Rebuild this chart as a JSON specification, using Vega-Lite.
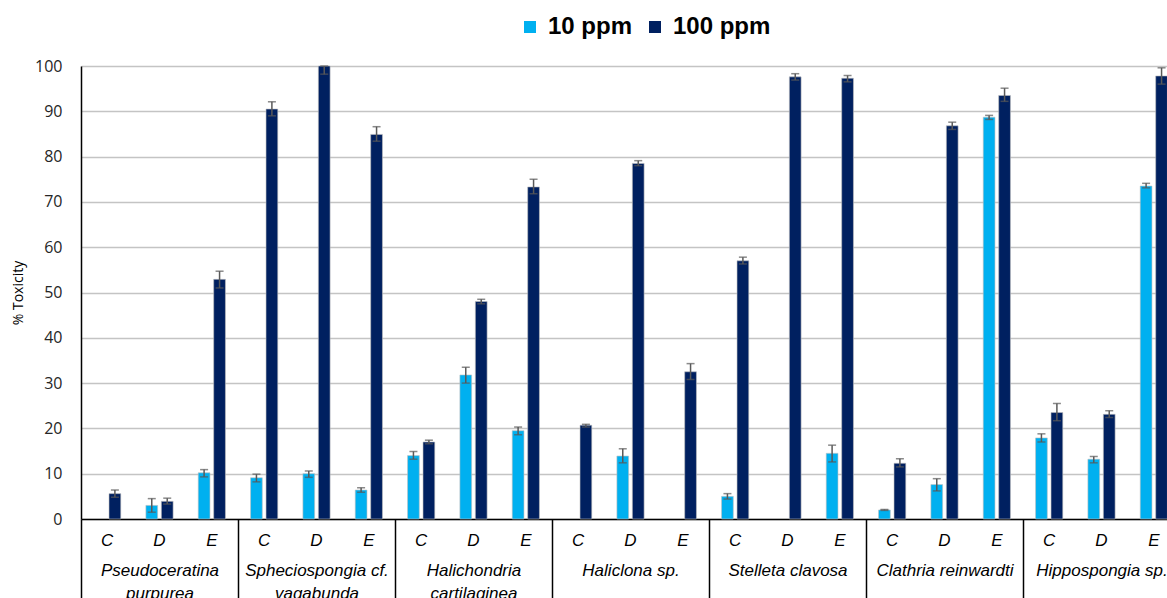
{
  "$schema": "https://vega.github.io/schema/vega-lite/v6.json",
  "autosize": {"type": "none"},
  "padding": {"left": 81, "top": 66, "right": 0, "bottom": 79},
  "width": 1086,
  "height": 453,
  "config": {
    "view": {"stroke": null},
    "font": "Liberation Sans"
  },
  "data": {
    "values": [
      {"species": "Pseudoceratina purpurea", "grp": "Pseudoceratina purpurea C", "series": "100 ppm", "v": 5.6, "lo": 4.8, "hi": 6.4},
      {"species": "Pseudoceratina purpurea", "grp": "Pseudoceratina purpurea D", "series": "10 ppm", "v": 3.0, "lo": 1.5, "hi": 4.5},
      {"species": "Pseudoceratina purpurea", "grp": "Pseudoceratina purpurea D", "series": "100 ppm", "v": 3.9, "lo": 3.3, "hi": 4.6},
      {"species": "Pseudoceratina purpurea", "grp": "Pseudoceratina purpurea E", "series": "10 ppm", "v": 10.2, "lo": 9.3, "hi": 10.9},
      {"species": "Pseudoceratina purpurea", "grp": "Pseudoceratina purpurea E", "series": "100 ppm", "v": 52.9, "lo": 51.0, "hi": 54.7},
      {"species": "Spheciospongia cf. vagabunda", "grp": "Spheciospongia cf. vagabunda C", "series": "10 ppm", "v": 9.1, "lo": 8.2, "hi": 9.9},
      {"species": "Spheciospongia cf. vagabunda", "grp": "Spheciospongia cf. vagabunda C", "series": "100 ppm", "v": 90.5, "lo": 89.0, "hi": 92.1},
      {"species": "Spheciospongia cf. vagabunda", "grp": "Spheciospongia cf. vagabunda D", "series": "10 ppm", "v": 10.0, "lo": 9.2, "hi": 10.6},
      {"species": "Spheciospongia cf. vagabunda", "grp": "Spheciospongia cf. vagabunda D", "series": "100 ppm", "v": 100, "lo": 98.2, "hi": 100},
      {"species": "Spheciospongia cf. vagabunda", "grp": "Spheciospongia cf. vagabunda E", "series": "10 ppm", "v": 6.4, "lo": 5.9, "hi": 6.9},
      {"species": "Spheciospongia cf. vagabunda", "grp": "Spheciospongia cf. vagabunda E", "series": "100 ppm", "v": 84.9, "lo": 83.4, "hi": 86.6},
      {"species": "Halichondria cartilaginea", "grp": "Halichondria cartilaginea C", "series": "10 ppm", "v": 14.0, "lo": 13.2, "hi": 14.9},
      {"species": "Halichondria cartilaginea", "grp": "Halichondria cartilaginea C", "series": "100 ppm", "v": 17.0, "lo": 16.6, "hi": 17.4},
      {"species": "Halichondria cartilaginea", "grp": "Halichondria cartilaginea D", "series": "10 ppm", "v": 31.8, "lo": 30.0, "hi": 33.5},
      {"species": "Halichondria cartilaginea", "grp": "Halichondria cartilaginea D", "series": "100 ppm", "v": 48.0, "lo": 47.5, "hi": 48.5},
      {"species": "Halichondria cartilaginea", "grp": "Halichondria cartilaginea E", "series": "10 ppm", "v": 19.5, "lo": 18.6, "hi": 20.3},
      {"species": "Halichondria cartilaginea", "grp": "Halichondria cartilaginea E", "series": "100 ppm", "v": 73.3, "lo": 71.8, "hi": 75.0},
      {"species": "Haliclona sp.", "grp": "Haliclona sp. C", "series": "100 ppm", "v": 20.7, "lo": 20.3, "hi": 20.9},
      {"species": "Haliclona sp.", "grp": "Haliclona sp. D", "series": "10 ppm", "v": 13.9, "lo": 12.4, "hi": 15.5},
      {"species": "Haliclona sp.", "grp": "Haliclona sp. D", "series": "100 ppm", "v": 78.5, "lo": 78.0, "hi": 79.1},
      {"species": "Haliclona sp.", "grp": "Haliclona sp. E", "series": "100 ppm", "v": 32.5, "lo": 30.8, "hi": 34.3},
      {"species": "Stelleta clavosa", "grp": "Stelleta clavosa C", "series": "10 ppm", "v": 5.0, "lo": 4.4, "hi": 5.6},
      {"species": "Stelleta clavosa", "grp": "Stelleta clavosa C", "series": "100 ppm", "v": 57.0, "lo": 56.3, "hi": 57.8},
      {"species": "Stelleta clavosa", "grp": "Stelleta clavosa D", "series": "100 ppm", "v": 97.6, "lo": 96.9, "hi": 98.3},
      {"species": "Stelleta clavosa", "grp": "Stelleta clavosa E", "series": "10 ppm", "v": 14.5, "lo": 12.6, "hi": 16.3},
      {"species": "Stelleta clavosa", "grp": "Stelleta clavosa E", "series": "100 ppm", "v": 97.3, "lo": 96.5, "hi": 97.9},
      {"species": "Clathria reinwardti", "grp": "Clathria reinwardti C", "series": "10 ppm", "v": 2.0, "lo": 1.9, "hi": 2.1},
      {"species": "Clathria reinwardti", "grp": "Clathria reinwardti C", "series": "100 ppm", "v": 12.3, "lo": 11.5, "hi": 13.3},
      {"species": "Clathria reinwardti", "grp": "Clathria reinwardti D", "series": "10 ppm", "v": 7.6, "lo": 6.2, "hi": 8.9},
      {"species": "Clathria reinwardti", "grp": "Clathria reinwardti D", "series": "100 ppm", "v": 86.8, "lo": 86.0, "hi": 87.6},
      {"species": "Clathria reinwardti", "grp": "Clathria reinwardti E", "series": "10 ppm", "v": 88.7, "lo": 88.2, "hi": 89.1},
      {"species": "Clathria reinwardti", "grp": "Clathria reinwardti E", "series": "100 ppm", "v": 93.5, "lo": 92.2, "hi": 95.1},
      {"species": "Hippospongia sp.", "grp": "Hippospongia sp. C", "series": "10 ppm", "v": 17.9, "lo": 17.0, "hi": 18.8},
      {"species": "Hippospongia sp.", "grp": "Hippospongia sp. C", "series": "100 ppm", "v": 23.5, "lo": 21.7, "hi": 25.5},
      {"species": "Hippospongia sp.", "grp": "Hippospongia sp. D", "series": "10 ppm", "v": 13.2, "lo": 12.4, "hi": 13.8},
      {"species": "Hippospongia sp.", "grp": "Hippospongia sp. D", "series": "100 ppm", "v": 23.1, "lo": 22.4, "hi": 23.9},
      {"species": "Hippospongia sp.", "grp": "Hippospongia sp. E", "series": "10 ppm", "v": 73.5, "lo": 73.1, "hi": 74.1},
      {"species": "Hippospongia sp.", "grp": "Hippospongia sp. E", "series": "100 ppm", "v": 97.8, "lo": 96.0, "hi": 99.6}
    ]
  },
  "layer": [
    {
      "encoding": {
        "x": {
          "field": "grp", "type": "nominal", "sort": null,
          "scale": {"range": [0, 1099], "paddingInner": 0.48, "paddingOuter": 0.24},
          "axis": {
            "title": null, "labelExpr": "slice(datum.label, -1)", "labelAngle": 0,
            "ticks": false, "domain": true, "domainColor": "#000000", "domainWidth": 1.5,
            "labelPadding": 13, "labelFontSize": 17, "labelFontStyle": "italic",
            "labelColor": "#000000", "labelFont": "Liberation Sans"
          }
        },
        "xOffset": {"field": "series", "type": "nominal", "scale": {"domain": ["10 ppm", "100 ppm"], "paddingInner": 0.24}}
      },
      "layer": [
        {
          "mark": {"type": "bar", "stroke": "#bfbfbf", "strokeWidth": 0.6},
          "encoding": {
            "y": {
              "field": "v", "type": "quantitative",
              "scale": {"domain": [0, 100], "nice": false},
              "axis": {
                "title": "% Toxicity", "titleFont": "Open Sans", "titleFontSize": 14, "titleFontWeight": "normal",
                "titleColor": "#000000", "titlePadding": 9,
                "values": [0, 10, 20, 30, 40, 50, 60, 70, 80, 90, 100],
                "ticks": false, "labelPadding": 19, "labelFont": "Open Sans", "labelFontSize": 16, "labelColor": "#262626",
                "domain": true, "domainColor": "#000000", "domainWidth": 1.5,
                "grid": true, "gridColor": "#c4c4c4", "gridWidth": 1.5
              }
            },
            "color": {
              "field": "series", "type": "nominal",
              "scale": {"domain": ["10 ppm", "100 ppm"], "range": ["#00b0f0", "#002060"]},
              "legend": {
                "title": null, "orient": "none", "legendX": 437, "legendY": -51, "direction": "horizontal",
                "symbolType": "square", "symbolSize": 144, "symbolStrokeWidth": 0,
                "labelFont": "Liberation Sans", "labelFontSize": 24, "labelFontWeight": "bold", "labelColor": "#000000",
                "labelOffset": 6, "columnPadding": 10, "padding": 0
              }
            }
          }
        },
        {
          "mark": {"type": "rule", "color": "#595959", "strokeWidth": 1.5},
          "encoding": {
            "y": {"field": "lo", "type": "quantitative"},
            "y2": {"field": "hi"}
          }
        },
        {
          "mark": {"type": "tick", "color": "#595959", "thickness": 1.5, "size": 8},
          "encoding": {
            "y": {"field": "lo", "type": "quantitative"}
          }
        },
        {
          "mark": {"type": "tick", "color": "#595959", "thickness": 1.5, "size": 8},
          "encoding": {
            "y": {"field": "hi", "type": "quantitative"}
          }
        }
      ]
    },
    {
      "mark": {"type": "rule", "opacity": 0},
      "encoding": {
        "x": {
          "field": "species", "type": "nominal", "sort": null,
          "scale": {"range": [0, 1099], "paddingInner": 0, "paddingOuter": 0},
          "axis": {
            "orient": "bottom", "title": null, "domain": false, "labelAngle": 0,
            "tickBand": "extent", "ticks": true, "tickSize": 79, "tickColor": "#000000", "tickWidth": 1.5,
            "labelPadding": -36, "labelFontSize": 17, "labelFontStyle": "italic", "labelColor": "#000000",
            "labelFont": "Liberation Sans", "labelLineHeight": 23, "labelLimit": 400,
            "labelExpr": "datum.label == 'Pseudoceratina purpurea' ? ['Pseudoceratina', 'purpurea'] : datum.label == 'Spheciospongia cf. vagabunda' ? ['Spheciospongia cf.', 'vagabunda'] : datum.label == 'Halichondria cartilaginea' ? ['Halichondria', 'cartilaginea'] : datum.label"
          }
        }
      }
    }
  ],
  "resolve": {"scale": {"x": "independent"}, "axis": {"x": "independent"}}
}
